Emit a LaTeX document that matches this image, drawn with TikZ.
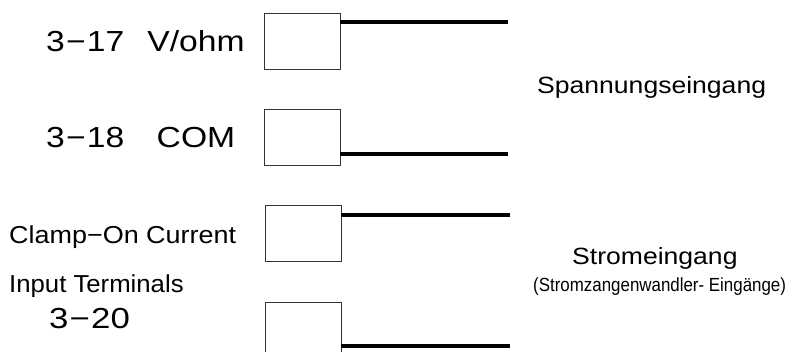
\documentclass[tikz,border=0pt]{standalone}
\usepackage{fontspec}
\setmainfont{Liberation Sans}
\begin{document}
\begin{tikzpicture}[x=1pt,y=-1pt,
  term/.style={draw=black!80,line width=0.9pt,minimum width=76pt,minimum height=56pt,inner sep=0pt,fill=white},
  wire/.style={line width=4.5pt},
  lbl/.style={anchor=base west,inner sep=0pt}]
\useasboundingbox (0,0) rectangle (789,351);
\clip (0,0) rectangle (789,351);
% terminal boxes
\node[term] (b1) at (302,41) {};
\node[term] (b2) at (302,137) {};
\node[term] (b3) at (303,233) {};
\node[term] (b4) at (303,330) {};
% wire ends
\coordinate (e1) at (508,22);
\coordinate (e2) at (508,154);
\coordinate (e3) at (510,215);
\coordinate (e4) at (510,346);
\draw[wire] (b1.east |- e1) -- (e1);
\draw[wire] (b2.east |- e2) -- (e2);
\draw[wire] (b3.east |- e3) -- (e3);
\draw[wire] (b4.east |- e4) -- (e4);
% left labels
\node[lbl,font=\fontsize{29}{33}\selectfont] (l1) at (46,51) {\scalebox{1.16}[1]{3\hspace{1pt}−\hspace{1pt}17\hspace{20pt}V/ohm}};
\node[lbl,font=\fontsize{29}{33}\selectfont] (l2) at (46,147) {\scalebox{1.16}[1]{3\hspace{1pt}−\hspace{1pt}18\hspace{28pt}COM}};
\node[lbl,font=\fontsize{24.5}{28}\selectfont] (l3) at (9,243) {\scalebox{1.1}[1]{Clamp−On Current}};
\node[lbl,font=\fontsize{24.5}{28}\selectfont] (l4) at (9,292) {\scalebox{1.05}[1]{Input Terminals}};
\node[lbl,font=\fontsize{29}{33}\selectfont] (l5) at (49,328) {\scalebox{1.2}[1]{3\hspace{1pt}−\hspace{1pt}20}};
% right labels
\node[lbl,font=\fontsize{23.5}{27}\selectfont] (r1) at (537,93) {\scalebox{1.13}[1]{Spannungseingang}};
\node[lbl,font=\fontsize{23.5}{27}\selectfont] (r2) at (572,264) {\scalebox{1.13}[1]{Stromeingang}};
\node[lbl,font=\fontsize{19}{22}\selectfont] (r3) at (533,291) {\scalebox{0.89}[1]{(Stromzangenwandler- Eingänge)}};
\end{tikzpicture}
\end{document}
